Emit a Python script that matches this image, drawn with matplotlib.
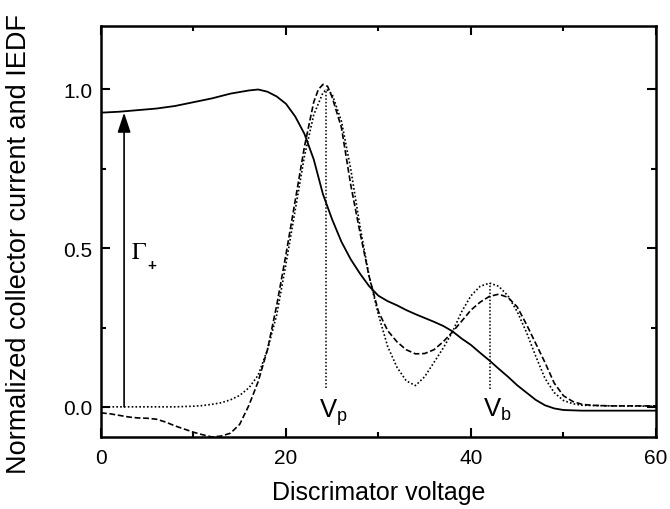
import matplotlib
matplotlib.use("Agg")
import matplotlib.pyplot as plt
from matplotlib.patches import FancyArrowPatch
from matplotlib.ticker import MultipleLocator

plt.rcParams['font.family'] = ['Liberation Sans', 'DejaVu Sans']
plt.rcParams['mathtext.fontset'] = 'stix'

# Collector current (solid)
cur_x = [0, 2, 4, 6, 8, 10, 12, 14, 16, 17, 18, 19, 20, 21, 22, 23, 24, 25, 26, 27,
         28, 29, 30, 31, 32, 33, 34, 35, 36, 37, 38, 39, 40, 41, 42, 43, 44, 45, 46,
         47, 48, 49, 50, 52, 55, 60]
cur_y = [0.927, 0.930, 0.935, 0.940, 0.948, 0.960, 0.972, 0.987, 0.997, 1.000, 0.993,
         0.978, 0.955, 0.915, 0.860, 0.780, 0.670, 0.590, 0.520, 0.465, 0.420, 0.380,
         0.350, 0.333, 0.320, 0.305, 0.292, 0.280, 0.268, 0.255, 0.238, 0.215, 0.195,
         0.170, 0.146, 0.120, 0.095, 0.068, 0.045, 0.022, 0.005, -0.005, -0.010,
         -0.012, -0.012, -0.012]

# Measured IEDF (dashed)
meas_x = [0, 1, 2, 3, 4, 5, 6, 7, 8, 9, 10, 11, 12, 13, 14, 15, 16, 17, 18, 19, 20,
          21, 22, 23, 23.5, 24, 24.5, 25, 26, 27, 28, 29, 30, 31, 32, 33, 34, 35, 36,
          37, 38, 39, 40, 41, 42, 43, 44, 45, 46, 47, 48, 49, 50, 51, 52, 53, 55, 60]
meas_y = [-0.019, -0.022, -0.027, -0.032, -0.035, -0.036, -0.039, -0.048, -0.060,
          -0.070, -0.080, -0.088, -0.095, -0.092, -0.083, -0.055, 0.005, 0.080, 0.180,
          0.320, 0.480, 0.650, 0.820, 0.960, 1.000, 1.016, 1.010, 0.975, 0.880, 0.700,
          0.550, 0.410, 0.300, 0.240, 0.205, 0.180, 0.167, 0.168, 0.180, 0.205, 0.236,
          0.270, 0.305, 0.330, 0.348, 0.355, 0.345, 0.315, 0.260, 0.200, 0.140, 0.075,
          0.035, 0.017, 0.008, 0.005, 0.003, 0.003]

# Calculated IEDF (dotted)
calc_x = [0, 5, 8, 10, 11, 12, 13, 14, 15, 16, 17, 18, 19, 20, 21, 22, 23, 24, 24.4,
          25, 26, 27, 28, 29, 30, 31, 32, 33, 34, 35, 36, 37, 38, 39, 40, 41, 42, 43,
          44, 45, 46, 47, 48, 49, 50, 51, 52, 55, 60]
calc_y = [0.000, 0.000, 0.000, 0.002, 0.004, 0.008, 0.013, 0.022, 0.036, 0.060, 0.100,
          0.180, 0.290, 0.450, 0.620, 0.790, 0.920, 0.990, 1.000, 0.985, 0.900, 0.750,
          0.570, 0.410, 0.290, 0.190, 0.125, 0.082, 0.067, 0.095, 0.140, 0.185, 0.236,
          0.300, 0.350, 0.380, 0.390, 0.380, 0.350, 0.300, 0.235, 0.160, 0.090, 0.045,
          0.020, 0.010, 0.005, 0.003, 0.002]

vp_x, vp_range = 24.3, (0.06, 1.0)
vb_x, vb_range = 42.05, (0.057, 0.39)
gamma_x, gamma_top = 2.5, 0.927

fig = plt.figure(figsize=(6.7, 5.1), dpi=100)
ax = fig.add_axes([0.1507, 0.1412, 0.8283, 0.8058])

ax.plot(cur_x, cur_y, color='black', lw=1.3, ls='-')
ax.plot(meas_x, meas_y, color='black', lw=1.2, ls=(0, (3.5, 1.6)))
ax.plot(calc_x, calc_y, color='black', lw=1.2, ls=(0, (1, 1.3)))

ax.plot([vp_x, vp_x], vp_range, color='black', lw=1.1, ls=(0, (1, 1.3)))
ax.plot([vb_x, vb_x], vb_range, color='black', lw=1.1, ls=(0, (1, 1.3)))

arrow = FancyArrowPatch((gamma_x, 0.0), (gamma_x, gamma_top),
                        arrowstyle='-|>,head_length=1.2,head_width=0.4',
                        mutation_scale=10, color='black', lw=1.2,
                        shrinkA=0, shrinkB=0)
ax.add_patch(arrow)

ax.text(3.3, 0.47, r'$\Gamma$', fontsize=17.5, ha='left', va='baseline')
ax.text(5.0, 0.447, '+', fontsize=11, ha='left', va='center', fontweight='bold')
ax.text(23.6, -0.032, r'$\mathregular{V_p}$', fontsize=18.5, ha='left', va='baseline')
ax.text(41.3, -0.028, r'$\mathregular{V_b}$', fontsize=18.5, ha='left', va='baseline')

ax.set_xlim(0, 60)
ax.set_ylim(-0.095, 1.2)
ax.set_xticks([0, 20, 40, 60])
ax.set_yticks([0.0, 0.5, 1.0])
ax.set_yticklabels(['0.0', '0.5', '1.0'])
ax.xaxis.set_minor_locator(MultipleLocator(10))
ax.yaxis.set_minor_locator(MultipleLocator(0.25))
ax.tick_params(which='both', direction='in', top=True, right=True, width=1.5,
               labelsize=15)
ax.tick_params(which='major', length=6.5)
ax.tick_params(which='minor', length=3.6)
ax.tick_params(axis='x', pad=8)
ax.tick_params(axis='y', pad=6)
for s in ax.spines.values():
    s.set_linewidth(1.8)

ax.set_xlabel('Discrimator voltage', fontsize=18, labelpad=9)
ax.set_ylabel('Normalized collector current and IEDF', fontsize=19.5)
ax.yaxis.set_label_coords(-0.125, 0.472)

fig.savefig('out.png', dpi=100)
